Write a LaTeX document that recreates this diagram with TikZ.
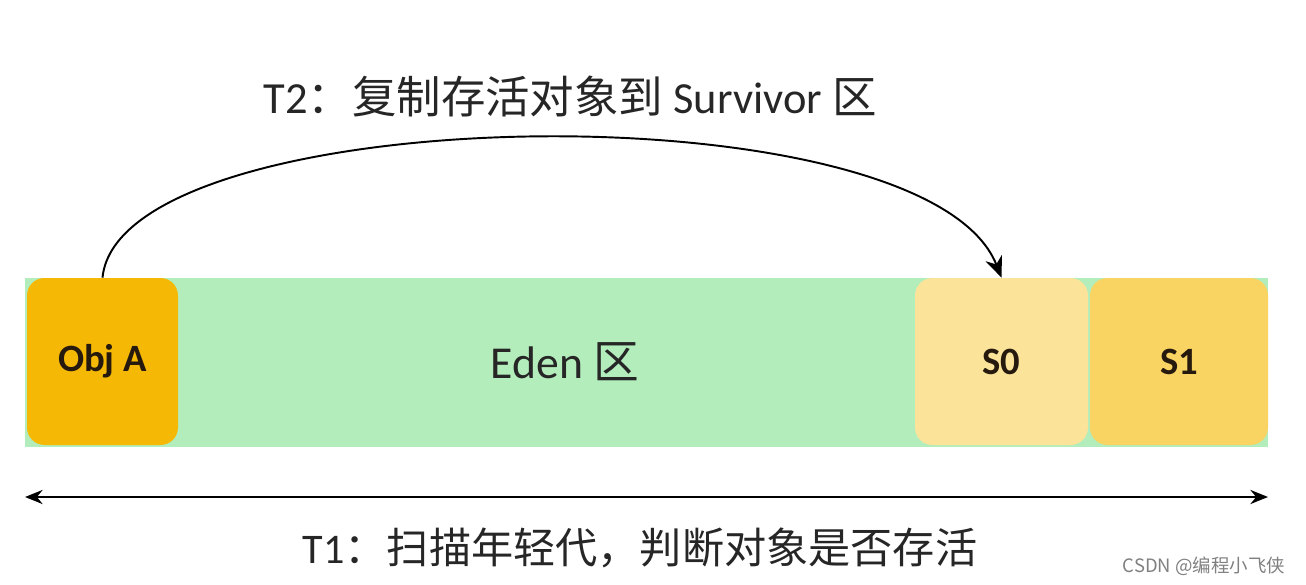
\documentclass[tikz,border=0pt]{standalone}
\usepackage{fontspec}
\setmainfont{Carlito}
\newfontfamily\cjk{Noto Sans CJK SC}
\usetikzlibrary{arrows.meta}
\definecolor{edengreen}{HTML}{B3EDBB}
\definecolor{objcol}{HTML}{F5B905}
\definecolor{szerocol}{HTML}{FBE49A}
\definecolor{sonecol}{HTML}{F9D462}
\begin{document}
\begin{tikzpicture}[
  box/.style={rounded corners=10pt,minimum width=#1,minimum height=3.34cm,inner sep=0,
    font=\fontsize{22}{24}\selectfont\bfseries,text=black!80!brown},
  caption/.style={font=\fontsize{#1}{28}\selectfont,text=black!85},
  link/.style={line width=1.1pt,-{Stealth[length=12pt,width=10pt]}}
]
  \useasboundingbox (0,0) rectangle (26.12,11.68);
  \fill[edengreen] (0.5,2.74) rectangle (25.36,6.12);
  \node [box=3.02cm,fill=objcol] (objA) at (2.05,4.45) {Obj A};
  \node [box=3.46cm,fill=szerocol] (s0) at (20.03,4.45) {S0};
  \node [box=3.56cm,fill=sonecol] (s1) at (23.58,4.45) {S1};
  \node [font=\fontsize{26}{30}\selectfont,text=black!85] (eden) at (11.3,4.44) {Eden {\cjk 区}};
  % T2: copy
  \draw[link] (objA.north) .. controls (2.4,9.7) and (18.5,10.0) .. (s0.north);
  \node [caption=25.3] (t2) at (11.4,9.74) {T2{\cjk ：复制存活对象到} Survivor {\cjk 区}};
  % T1: scan
  \coordinate (left) at (0.5,1.74);
  \coordinate (right) at (25.36,1.74);
  \draw[line width=1.4pt,{Stealth[length=10pt,width=8pt]}-{Stealth[length=10pt,width=8pt]}] (left) -- (right);
  \node [caption=24] (t1) at (12.8,0.72) {T1{\cjk ：扫描年轻代，判断对象是否存活}};
  \node [font=\cjk\fontsize{10.5}{12}\selectfont,text=black!50] (mark) at (24.08,0.36) {CSDN @编程小飞侠};
\end{tikzpicture}
\end{document}
